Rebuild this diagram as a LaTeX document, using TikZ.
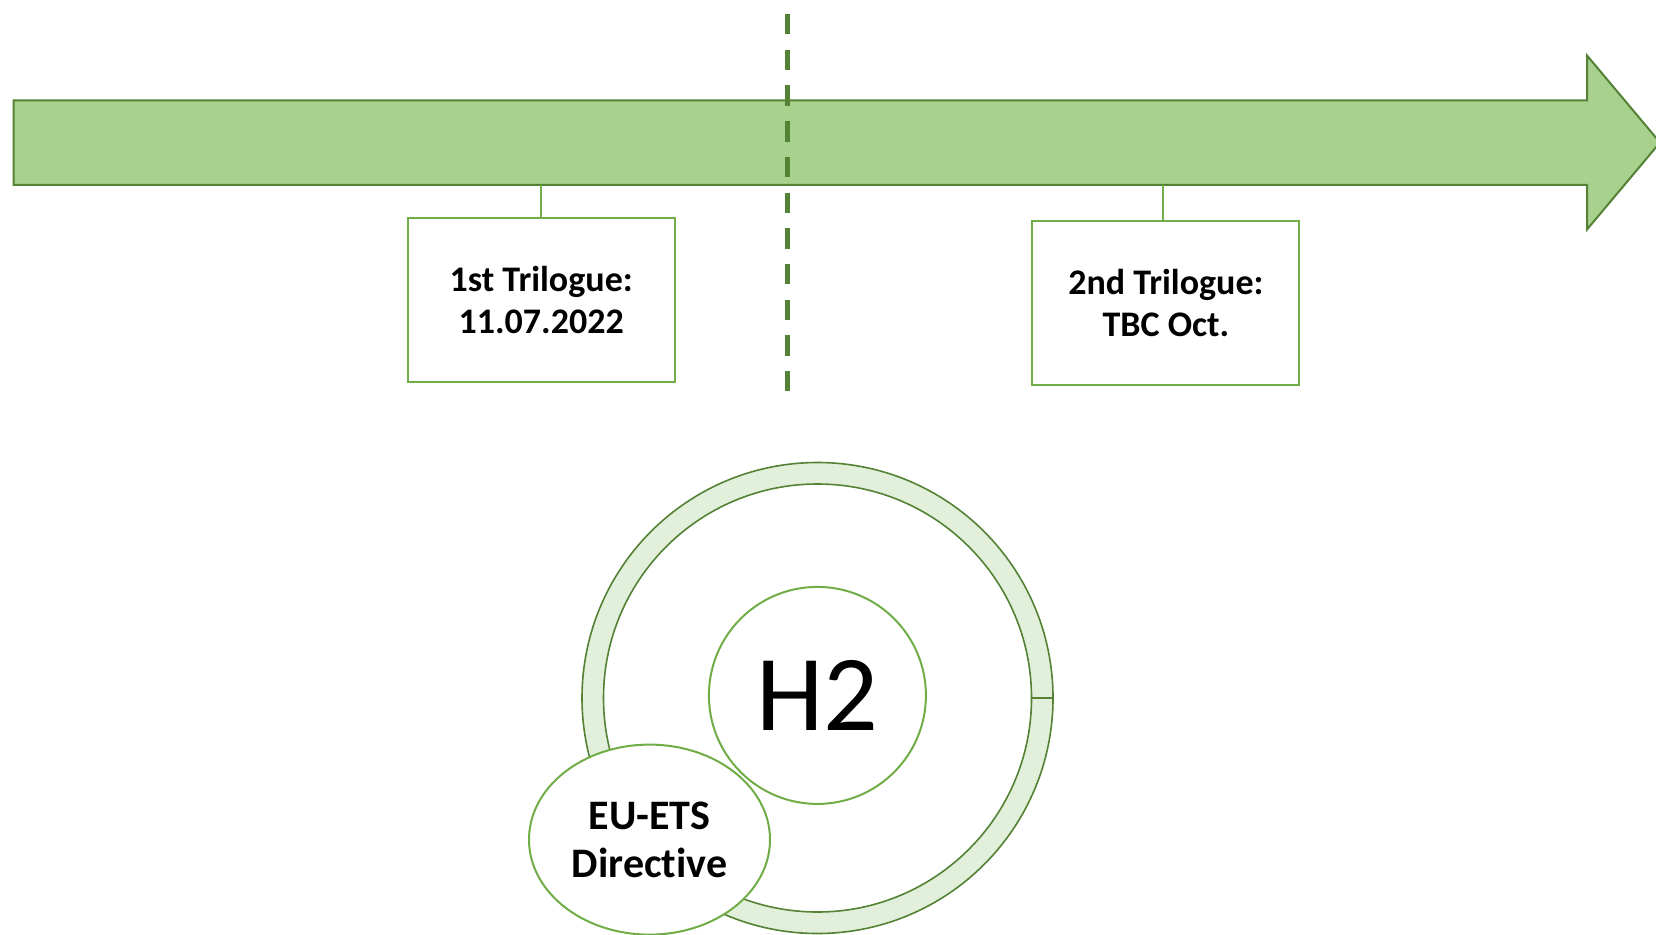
\documentclass[tikz,border=0pt]{standalone}
\usepackage{fontspec}
\setmainfont{Carlito}[Ligatures=CommonOff]
\usepackage{tikz}
\usepackage{xcolor}
\usetikzlibrary{shapes.geometric}

\definecolor{arrowgreen}{HTML}{A9D18E}
\definecolor{darkgreen}{HTML}{548235}
\definecolor{linegreen}{HTML}{70AD47}
\definecolor{palegreen}{HTML}{E2EFDA}

\begin{document}
\begin{tikzpicture}[
    x=1pt, y=-1pt,
    box/.style={draw=linegreen, line width=2pt, fill=white, minimum width=267pt, minimum height=164pt, align=center, font=\fontsize{36}{42}\selectfont\bfseries},
    stem/.style={draw=linegreen, line width=1.8pt},
    timeline/.style={fill=arrowgreen, draw=darkgreen, line width=2pt, line join=miter},
    divider/.style={draw=darkgreen, line width=5pt, dash pattern=on 20.5pt off 15.2pt},
    ring/.style={fill=palegreen, draw=darkgreen, line width=1.6pt},
    bubble/.style={draw=linegreen, line width=2pt, fill=white, inner sep=0pt, align=center}
]
\useasboundingbox (0,0) rectangle (1656,934);

% Timeline arrow
\draw[timeline] (13.7,100.3) -- (1587,100.3) -- (1587,55.5) -- (1660,142.5)
    -- (1587,229.5) -- (1587,184.8) -- (13.7,184.8) -- cycle;
\coordinate (lineb) at (0,184.8);

% Divider
\draw[divider] (787,14) -- (787,391);

% Dates
\node[box] (tri1) at (541.2,299.5) {1st Trilogue:\\11.07.2022};
\node[box] (tri2) at (1165.9,303.1) {2nd Trilogue:\\TBC Oct.};
\draw[stem] (tri1.north) -- (tri1.north |- lineb);
\draw[stem] ([xshift=-3pt]tri2.north) -- ([xshift=-3pt]tri2.north |- lineb);

% Ring
\draw[ring] (1053,698) arc[start angle=0, end angle=360, radius=235.5]
    -- (1031.5,698) arc[start angle=360, end angle=0, radius=214] -- cycle;

% H2
\node[bubble, circle, minimum size=217pt, font=\fontsize{108}{120}\selectfont] (h2) at (817.4,695.4) {H2};

% Directive
\node[bubble, ellipse, minimum width=241pt, minimum height=190pt, font=\fontsize{42}{48}\selectfont\bfseries] (ets) at (649.5,839.6) {EU-ETS\\Directive};

\end{tikzpicture}
\end{document}
